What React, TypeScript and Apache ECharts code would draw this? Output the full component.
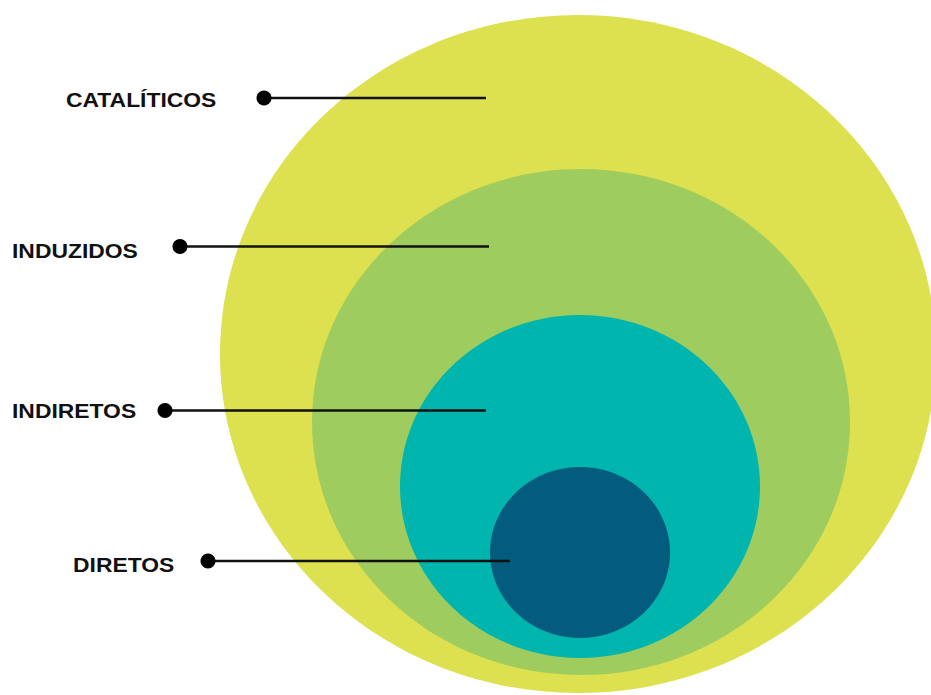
import React, { useEffect, useRef } from "react";
import * as echarts from "echarts";

// Levels of the nested diagram (outer to inner)
const levels = ["CATALÍTICOS", "INDUZIDOS", "INDIRETOS", "DIRETOS"];
// Ellipse geometry in the diagram's own units (page pixels)
const ellipseCenterX = [578, 581, 580, 580];
const ellipseCenterY = [354, 422, 486.5, 552.5];
const ellipseRadiusX = [358, 269, 180, 90];
const ellipseRadiusY = [339, 253, 171.5, 85.5];
const levelColors = ["#dde04f", "#9fcc5f", "#00b5ad", "#035b7e"];
// Leader lines and labels
const labelLeftX = [66, 12, 12, 73];
const labelY = [100, 251, 411, 565];
const dotX = [264, 180, 165, 208];
const dotY = [98, 246.5, 410.5, 561];
const lineEndX = [486, 489, 486, 510];

export default function App() {
  const ref = useRef<HTMLDivElement>(null);
  useEffect(() => {
    if (!ref.current) return;
    const chart = echarts.init(ref.current, undefined, { renderer: "svg" });
    const ellipseData = levels.map((_, i) => [
      ellipseCenterX[i],
      ellipseCenterY[i],
      ellipseRadiusX[i],
      ellipseRadiusY[i],
      i,
    ]);
    const leaderData = levels.map((_, i) => [dotX[i], dotY[i], lineEndX[i], labelLeftX[i], labelY[i], i]);
    chart.setOption({
      animation: false,
      backgroundColor: "#ffffff",
      grid: { left: 0, right: 0, top: 0, bottom: 0 },
      xAxis: { type: "value", min: 0, max: 931, show: false },
      yAxis: { type: "value", min: 0, max: 695, inverse: true, show: false },
      series: [
        {
          type: "custom",
          clip: false,
          data: ellipseData,
          renderItem: (params: any, api: any) => {
            const c = api.coord([api.value(0), api.value(1)]);
            const s = api.size([api.value(2), api.value(3)]);
            const idx = api.value(4);
            return {
              type: "ellipse",
              shape: { cx: c[0], cy: c[1], rx: s[0], ry: s[1] },
              style: { fill: levelColors[idx] },
            };
          },
        },
        {
          type: "custom",
          clip: false,
          data: leaderData,
          renderItem: (params: any, api: any) => {
            const dot = api.coord([api.value(0), api.value(1)]);
            const end = api.coord([api.value(2), api.value(1)]);
            const lab = api.coord([api.value(3), api.value(4)]);
            const idx = api.value(5);
            return {
              type: "group",
              children: [
                {
                  type: "line",
                  shape: { x1: dot[0], y1: dot[1], x2: end[0], y2: end[1] },
                  style: { stroke: "#111111", lineWidth: 2.5 },
                },
                {
                  type: "circle",
                  shape: { cx: dot[0], cy: dot[1], r: 7.5 },
                  style: { fill: "#000000" },
                },
                {
                  type: "text",
                  x: lab[0],
                  y: lab[1],
                  scaleX: 1.09,
                  style: {
                    text: levels[idx],
                    fill: "#111111",
                    fontSize: 21,
                    fontWeight: "bold",
                    fontFamily: '"Liberation Sans", Arial, sans-serif',
                    align: "left",
                    verticalAlign: "middle",
                  },
                },
              ],
            };
          },
        },
      ],
    });
    return () => chart.dispose();
  }, []);
  return (
    <div
      ref={ref}
      style={{ position: "fixed", left: 0, top: 0, width: 931, height: 695 }}
    />
  );
}
